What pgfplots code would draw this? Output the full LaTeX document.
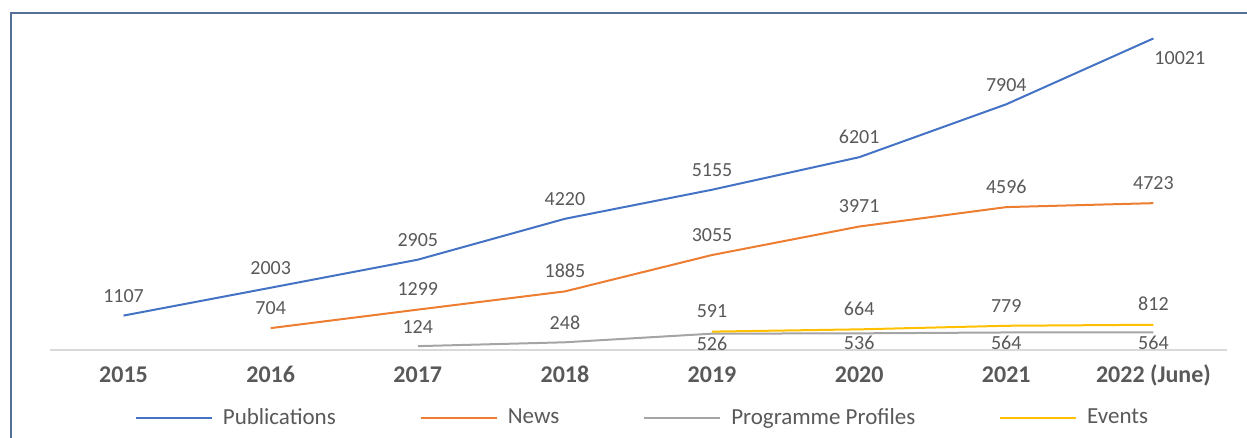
\documentclass[border=0pt]{standalone}
\usepackage{pgfplots}
\pgfplotsset{compat=1.18}
\usepackage{fontspec}
\setmainfont{Carlito}
\definecolor{cblue}{HTML}{4472C4}
\definecolor{corange}{HTML}{ED7D31}
\definecolor{cgray}{HTML}{A5A5A5}
\definecolor{cgold}{HTML}{FFC000}
\definecolor{labelgray}{HTML}{595959}
\definecolor{axisgray}{HTML}{D9D9D9}
\definecolor{frameblue}{RGB}{84,112,153}
\begin{document}
\begin{tikzpicture}
\begin{scope}[x=0.5pt,y=-0.5pt]
\useasboundingbox (0,0) rectangle (1247,438);
\draw[frameblue, line width=1pt] (11,450) -- (11,13) -- (1260,13);
\coordinate (A) at (50,350);
\end{scope}
\begin{axis}[
  at={(A)}, anchor=south west,
  scale only axis, width=588.5pt, height=171pt,
  xmin=-0.5, xmax=7.5, ymin=0, ymax=11000,
  hide y axis,
  axis x line*=bottom,
  x axis line style={draw=axisgray, line width=1pt, -},
  xtick={0,...,7},
  xticklabels={2015,2016,2017,2018,2019,2020,2021,2022 (June)},
  major tick length=0pt,
  xticklabel style={font=\bfseries\fontsize{12}{14}\selectfont, text=labelgray, text height=8.5pt, text depth=2.5pt, yshift=-4pt},
  /pgf/number format/assume math mode=true,
  /pgf/number format/1000 sep={},
  every node near coord/.append style={font=\fontsize{10}{12}\selectfont, text=labelgray},
  no marks,
  clip=false,
  legend style={at={(0.5,0)}, anchor=center, yshift=-34pt, xshift=2.5pt, draw=none, fill=none,
    font=\fontsize{11.5}{14}\selectfont, text=labelgray, legend columns=4,
    /tikz/every odd column/.append style={column sep=3pt},
    /tikz/every even column/.append style={column sep=40pt}},
  legend image code/.code={\draw[#1] (0pt,0pt) -- (38pt,0pt);},
]
% Publications
\addplot[cblue, line width=1pt] coordinates {(0,1107) (1,2003) (2,2905) (3,4220) (4,5155) (5,6201) (6,7904) (7,10021)};
\addlegendentry{Publications}
% News
\addplot[corange, line width=1pt, nodes near coords, every node near coord/.append style={yshift=3pt}] coordinates {(1,704) (2,1299) (3,1885) (4,3055) (5,3971) (6,4596) (7,4723)};
\addlegendentry{News}
% Programme Profiles
\addplot[cgray, line width=1pt] coordinates {(2,124) (3,248) (4,526) (5,536) (6,564) (7,564)};
\addlegendentry{Programme Profiles}
% Events
\addplot[cgold, line width=1pt, nodes near coords, every node near coord/.append style={yshift=3pt}] coordinates {(4,591) (5,664) (6,779) (7,812)};
\addlegendentry{Events}
% labels for Publications
\addplot[draw=none, forget plot, nodes near coords, every node near coord/.append style={yshift=3pt}] coordinates {(0,1107) (1,2003) (2,2905) (3,4220) (4,5155) (5,6201) (6,7904)};
\addplot[draw=none, forget plot, nodes near coords, every node near coord/.append style={anchor=west, xshift=-3pt, yshift=-10pt}] coordinates {(7,10021)};
% labels for Programme Profiles
\addplot[draw=none, forget plot, nodes near coords, every node near coord/.append style={yshift=3pt}] coordinates {(2,124) (3,248)};
\addplot[draw=none, forget plot, nodes near coords, nodes near coords align={below}, every node near coord/.append style={yshift=2pt}] coordinates {(4,526) (5,536) (6,564) (7,564)};
\end{axis}
\end{tikzpicture}
\end{document}
